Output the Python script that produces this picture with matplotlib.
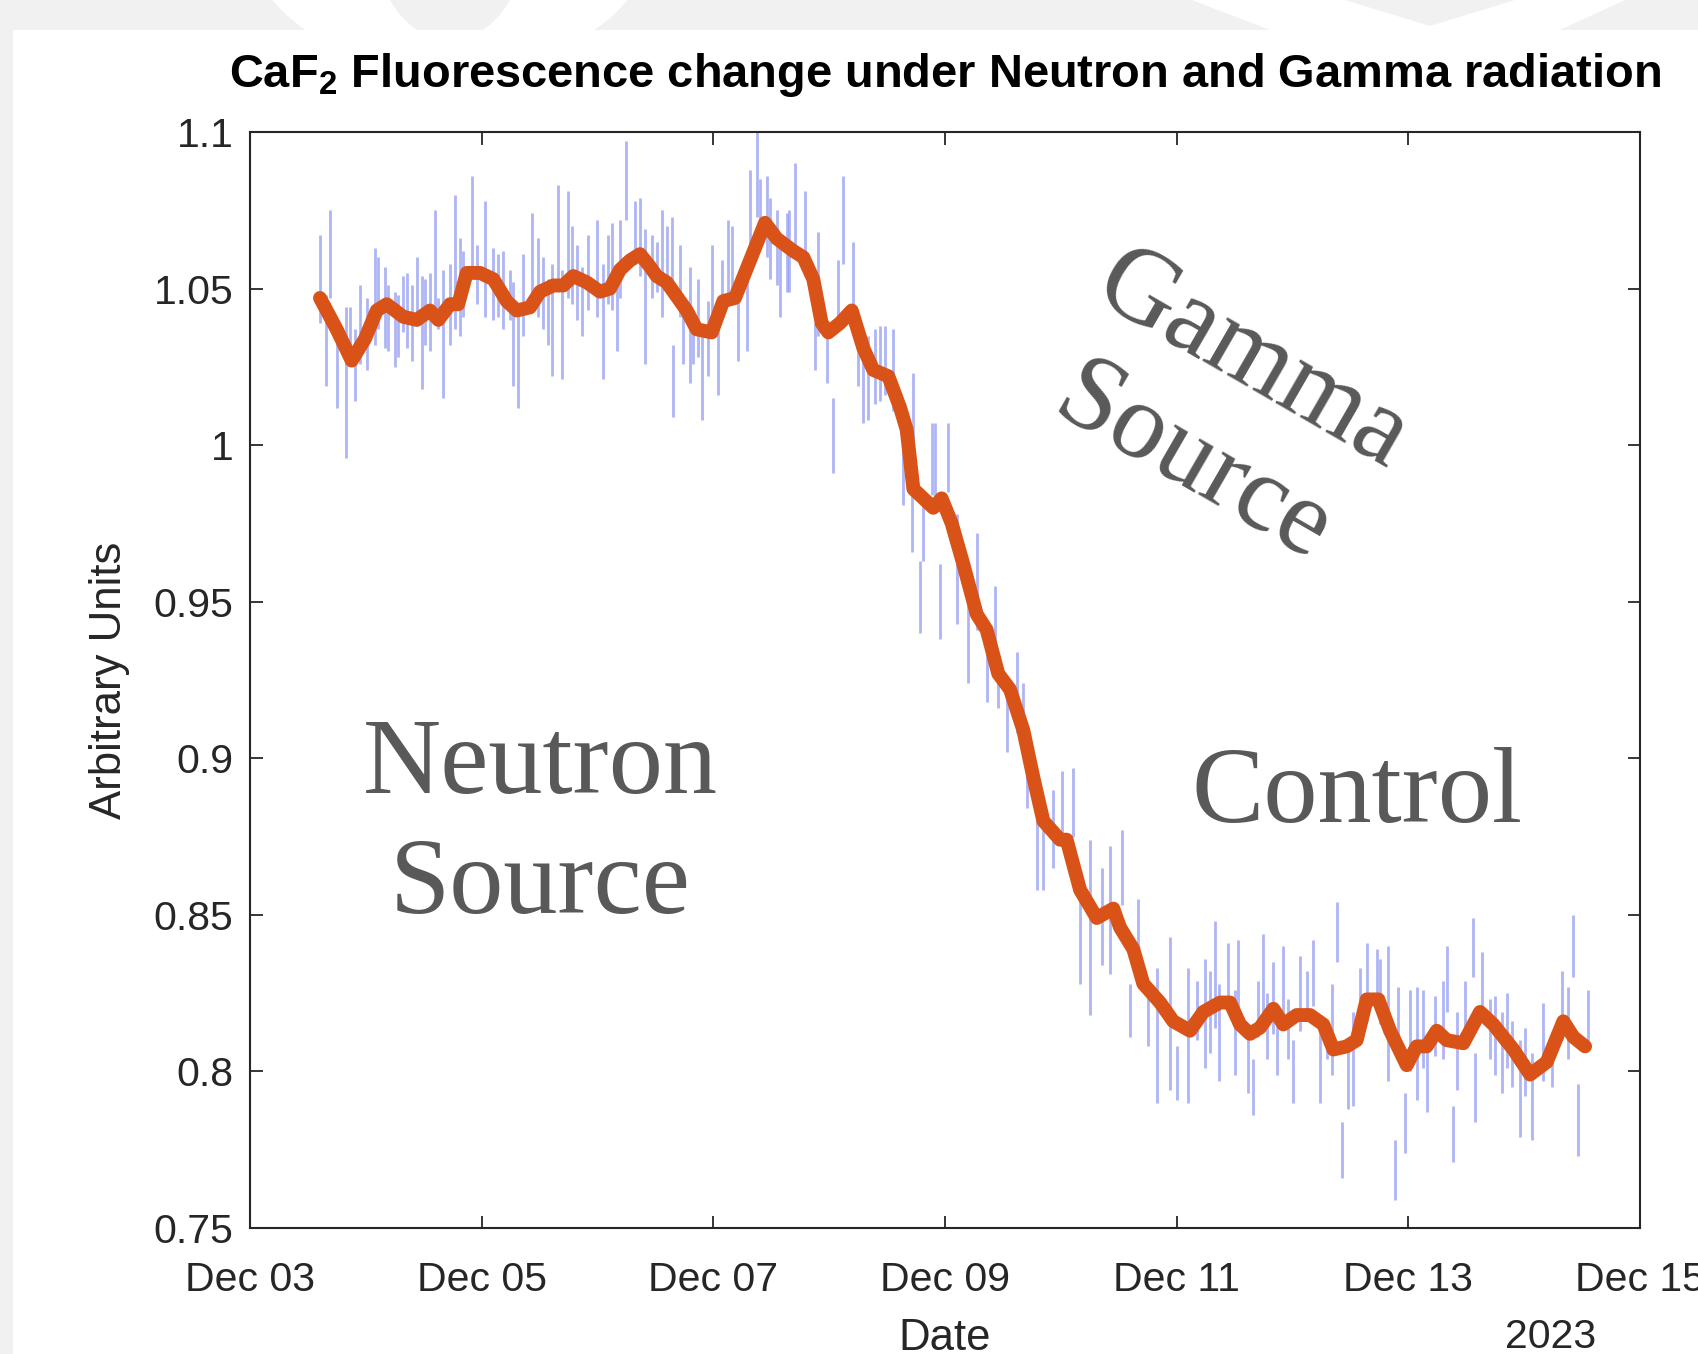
import pandas as pd
import matplotlib
matplotlib.use("Agg")
import matplotlib.pyplot as plt
import matplotlib.dates as mdates
from matplotlib.patches import Rectangle, Ellipse, Polygon
from matplotlib.ticker import MultipleLocator, FuncFormatter

t0 = pd.Timestamp("2023-12-03")

# smoothed fluorescence (days after Dec 03 00:00)
avg_day = [0.604, 0.748, 0.878, 0.993, 1.094, 1.180, 1.324, 1.439, 1.554, 1.626,
           1.727, 1.798, 1.871, 1.986, 2.101, 2.216, 2.303, 2.417, 2.504, 2.619,
           2.705, 2.791, 2.907, 3.022, 3.108, 3.194, 3.281, 3.367, 3.453, 3.511,
           3.597, 3.770, 3.856, 3.986, 4.086, 4.187, 4.317, 4.446, 4.547, 4.691,
           4.777, 4.863, 4.935, 4.993, 5.094, 5.195, 5.295, 5.381, 5.511, 5.612,
           5.669, 5.727, 5.899, 5.971, 6.058, 6.158, 6.274, 6.360, 6.460, 6.561,
           6.676, 6.762, 6.849, 6.993, 7.050, 7.166, 7.310, 7.453, 7.511, 7.626,
           7.712, 7.856, 7.971, 8.115, 8.230, 8.374, 8.461, 8.547, 8.633, 8.720,
           8.835, 8.921, 9.036, 9.151, 9.266, 9.353, 9.468, 9.554, 9.641, 9.741,
           9.842, 9.986, 10.072, 10.158, 10.245, 10.331, 10.475, 10.619, 10.734, 10.907,
           11.051, 11.195, 11.338, 11.425, 11.526]
avg_val = [1.047, 1.037, 1.027, 1.034, 1.043, 1.045, 1.041, 1.040, 1.043, 1.040,
           1.045, 1.045, 1.055, 1.055, 1.053, 1.046, 1.043, 1.044, 1.049, 1.051,
           1.051, 1.054, 1.052, 1.049, 1.050, 1.056, 1.059, 1.061, 1.057, 1.054,
           1.052, 1.043, 1.037, 1.036, 1.046, 1.047, 1.059, 1.071, 1.066, 1.062,
           1.060, 1.053, 1.039, 1.036, 1.039, 1.043, 1.031, 1.024, 1.022, 1.012,
           1.005, 0.986, 0.980, 0.983, 0.975, 0.962, 0.946, 0.941, 0.927, 0.922,
           0.909, 0.894, 0.880, 0.874, 0.874, 0.858, 0.849, 0.852, 0.846, 0.839,
           0.828, 0.822, 0.816, 0.813, 0.819, 0.822, 0.822, 0.815, 0.812, 0.814,
           0.820, 0.815, 0.818, 0.818, 0.815, 0.807, 0.808, 0.810, 0.823, 0.823,
           0.813, 0.802, 0.808, 0.808, 0.813, 0.810, 0.809, 0.819, 0.815, 0.807,
           0.799, 0.803, 0.816, 0.811, 0.808]

# raw samples: spread of each reading (low / high)
raw_day = [0.604, 0.656, 0.691, 0.748, 0.829, 0.863, 0.906, 0.950, 1.007, 1.079,
           1.108, 1.166, 1.194, 1.252, 1.281, 1.324, 1.353, 1.396, 1.439, 1.482,
           1.511, 1.554, 1.597, 1.626, 1.669, 1.727, 1.770, 1.813, 1.842, 1.914,
           1.957, 2.029, 2.101, 2.144, 2.187, 2.245, 2.274, 2.317, 2.360, 2.432,
           2.490, 2.533, 2.576, 2.605, 2.662, 2.691, 2.749, 2.777, 2.820, 2.864,
           2.921, 2.993, 3.051, 3.094, 3.123, 3.166, 3.195, 3.246, 3.324, 3.367,
           3.410, 3.468, 3.511, 3.554, 3.597, 3.640, 3.655, 3.712, 3.741, 3.799,
           3.827, 3.871, 3.899, 3.957, 3.986, 4.043, 4.072, 4.130, 4.158, 4.216,
           4.288, 4.317, 4.374, 4.403, 4.460, 4.489, 4.547, 4.576, 4.633, 4.656,
           4.705, 4.791, 4.878, 4.907, 4.979, 5.036, 5.079, 5.122, 5.209, 5.252,
           5.295, 5.338, 5.396, 5.439, 5.482, 5.554, 5.640, 5.727, 5.712, 5.784,
           5.813, 5.885, 5.914, 5.957, 6.029, 6.101, 6.202, 6.273, 6.360, 6.432,
           6.461, 6.532, 6.619, 6.676, 6.705, 6.791, 6.849, 6.935, 7.007, 7.108,
           7.166, 7.252, 7.353, 7.425, 7.525, 7.597, 7.669, 7.756, 7.828, 7.942,
           8.000, 8.101, 8.173, 8.245, 8.288, 8.331, 8.368, 8.446, 8.503, 8.532,
           8.619, 8.662, 8.705, 8.748, 8.777, 8.834, 8.863, 8.921, 8.964, 9.007,
           9.065, 9.122, 9.180, 9.237, 9.295, 9.338, 9.381, 9.424, 9.482, 9.525,
           9.583, 9.640, 9.727, 9.755, 9.827, 9.885, 9.914, 9.971, 10.014, 10.072,
           10.129, 10.158, 10.230, 10.302, 10.331, 10.388, 10.417, 10.489, 10.555, 10.575,
           10.633, 10.705, 10.748, 10.806, 10.849, 10.892, 10.964, 11.007, 11.065, 11.165,
           11.237, 11.324, 11.381, 11.419, 11.468, 11.554]
raw_lo = [1.039, 1.019, 1.047, 1.012, 0.996, 1.026, 1.014, 1.026, 1.024, 1.032,
          1.037, 1.031, 1.030, 1.025, 1.028, 1.036, 1.031, 1.027, 1.038, 1.018,
          1.032, 1.030, 1.039, 1.037, 1.015, 1.032, 1.037, 1.035, 1.041, 1.054,
          1.045, 1.041, 1.040, 1.041, 1.037, 1.040, 1.019, 1.012, 1.035, 1.045,
          1.041, 1.037, 1.032, 1.022, 1.049, 1.021, 1.047, 1.045, 1.040, 1.035,
          1.043, 1.041, 1.021, 1.045, 1.043, 1.030, 1.047, 1.072, 1.058, 1.054,
          1.026, 1.047, 1.049, 1.041, 1.052, 1.047, 1.009, 1.041, 1.026, 1.020,
          1.026, 1.028, 1.008, 1.022, 1.037, 1.016, 1.041, 1.047, 1.045, 1.027,
          1.030, 1.060, 1.073, 1.069, 1.060, 1.053, 1.051, 1.041, 1.049, 1.049,
          1.064, 1.056, 1.024, 1.035, 1.020, 0.991, 1.040, 1.058, 1.039, 1.019,
          1.007, 1.008, 1.013, 1.014, 1.016, 1.011, 0.981, 0.994, 0.966, 0.940,
          0.963, 0.984, 0.983, 0.938, 0.985, 0.943, 0.924, 0.941, 0.918, 0.931,
          0.916, 0.902, 0.908, 0.905, 0.884, 0.858, 0.858, 0.865, 0.872, 0.875,
          0.828, 0.818, 0.834, 0.831, 0.853, 0.811, 0.830, 0.808, 0.790, 0.794,
          0.791, 0.790, 0.810, 0.801, 0.806, 0.814, 0.797, 0.820, 0.799, 0.814,
          0.793, 0.786, 0.811, 0.817, 0.804, 0.812, 0.799, 0.816, 0.804, 0.790,
          0.813, 0.819, 0.821, 0.790, 0.804, 0.799, 0.835, 0.766, 0.788, 0.789,
          0.812, 0.816, 0.821, 0.815, 0.797, 0.759, 0.804, 0.774, 0.800, 0.791,
          0.801, 0.787, 0.805, 0.804, 0.819, 0.771, 0.794, 0.808, 0.830, 0.784,
          0.819, 0.804, 0.799, 0.793, 0.801, 0.795, 0.779, 0.792, 0.778, 0.797,
          0.795, 0.810, 0.804, 0.830, 0.773, 0.808]
raw_hi = [1.067, 1.048, 1.075, 1.035, 1.044, 1.044, 1.037, 1.051, 1.047, 1.063,
          1.060, 1.057, 1.051, 1.049, 1.048, 1.054, 1.055, 1.051, 1.060, 1.054,
          1.053, 1.055, 1.075, 1.047, 1.056, 1.058, 1.080, 1.066, 1.062, 1.086,
          1.064, 1.078, 1.063, 1.061, 1.062, 1.056, 1.052, 1.045, 1.061, 1.074,
          1.066, 1.060, 1.053, 1.058, 1.083, 1.056, 1.081, 1.070, 1.064, 1.057,
          1.067, 1.072, 1.058, 1.067, 1.071, 1.051, 1.072, 1.097, 1.078, 1.079,
          1.069, 1.067, 1.065, 1.075, 1.070, 1.073, 1.032, 1.064, 1.042, 1.057,
          1.037, 1.053, 1.035, 1.046, 1.064, 1.046, 1.059, 1.072, 1.070, 1.051,
          1.060, 1.088, 1.100, 1.085, 1.086, 1.079, 1.075, 1.065, 1.074, 1.075,
          1.090, 1.081, 1.039, 1.068, 1.037, 1.015, 1.059, 1.086, 1.065, 1.037,
          1.037, 1.035, 1.037, 1.038, 1.038, 1.037, 1.008, 1.023, 0.984, 0.963,
          0.985, 1.007, 1.007, 0.962, 1.007, 0.978, 0.949, 0.972, 0.937, 0.955,
          0.925, 0.919, 0.934, 0.924, 0.906, 0.887, 0.880, 0.890, 0.896, 0.897,
          0.855, 0.874, 0.865, 0.872, 0.877, 0.828, 0.855, 0.827, 0.833, 0.843,
          0.808, 0.833, 0.829, 0.836, 0.832, 0.848, 0.828, 0.841, 0.826, 0.842,
          0.811, 0.804, 0.829, 0.844, 0.825, 0.835, 0.816, 0.840, 0.823, 0.810,
          0.837, 0.832, 0.842, 0.813, 0.814, 0.828, 0.854, 0.784, 0.807, 0.819,
          0.833, 0.841, 0.839, 0.836, 0.840, 0.778, 0.827, 0.793, 0.826, 0.827,
          0.826, 0.808, 0.824, 0.829, 0.840, 0.789, 0.819, 0.829, 0.849, 0.806,
          0.838, 0.823, 0.824, 0.819, 0.825, 0.816, 0.810, 0.814, 0.806, 0.822,
          0.808, 0.832, 0.827, 0.850, 0.796, 0.826]

xticks = pd.date_range("2023-12-03", "2023-12-15", freq="2D")

plt.rcParams["font.family"] = ["Liberation Sans", "DejaVu Sans"]
plt.rcParams["mathtext.fontset"] = "custom"
plt.rcParams["mathtext.rm"] = "Liberation Sans"
plt.rcParams["mathtext.bf"] = "Liberation Sans:bold"

W, H = 1698, 1354
fig = plt.figure(figsize=(W / 100, H / 100), dpi=100, facecolor="#f1f1f1")

# white page + faint watermark shapes in the grey top band
fig.patches.append(Rectangle((13 / W, 0), 1, 1 - 30 / H, transform=fig.transFigure,
                             fc="white", ec="none", zorder=-10))
fig.patches.append(Ellipse((450 / W, (H + 60) / H), 400 / W, 260 / H, transform=fig.transFigure,
                           fc="white", ec="none", zorder=-11))
fig.patches.append(Ellipse((450 / W, (H + 60) / H), 150 / W, 200 / H, transform=fig.transFigure,
                           fc="#f1f1f1", ec="none", zorder=-10.5))
fig.patches.append(Polygon([(1192 / W, 1), (1625 / W, 1), (1560 / W, 1 - 30 / H), (1270 / W, 1 - 30 / H)],
                           transform=fig.transFigure, fc="white", ec="none", zorder=-11))
fig.patches.append(Polygon([(1345 / W, 1), (1515 / W, 1), (1430 / W, 1 - 26 / H)],
                           transform=fig.transFigure, fc="#f1f1f1", ec="none", zorder=-10.5))

ax = fig.add_axes([250 / W, 1 - 1228 / H, 1390 / W, 1096 / H])
ax.set_facecolor("white")

x_raw = t0 + pd.to_timedelta(raw_day, unit="D")
x_avg = t0 + pd.to_timedelta(avg_day, unit="D")
ax.vlines(x_raw, raw_lo, raw_hi, color="#939cf2", alpha=0.75, lw=2.0, zorder=2)
ax.plot(x_avg, avg_val, color="#D95319", lw=10, solid_joinstyle="round",
        solid_capstyle="round", zorder=3)

ax.set_xlim(pd.Timestamp("2023-12-03"), pd.Timestamp("2023-12-15"))
ax.set_ylim(0.75, 1.1)
ax.set_xticks(xticks)
ax.xaxis.set_major_formatter(mdates.DateFormatter("%b %d"))
ax.yaxis.set_major_locator(MultipleLocator(0.05))
ax.yaxis.set_major_formatter(FuncFormatter(lambda v, p: f"{v:g}"))

ax.tick_params(direction="in", length=9, width=1.3, color="#262626", labelcolor="#262626",
               labelsize=29.5, top=True, right=True)
ax.tick_params(axis="x", pad=23.5)
ax.tick_params(axis="y", pad=12)
for s in ax.spines.values():
    s.set_linewidth(1.5)
    s.set_color("#262626")

ax.set_ylabel("Arbitrary Units", fontsize=31.5, color="#262626")
ax.yaxis.set_label_coords(-0.0863, 0.5)
ax.set_xlabel("Date", fontsize=31.5, color="#262626")
ax.xaxis.set_label_coords(0.5, -0.0825)
ax.text(0.936, -0.0825, "2023", transform=ax.transAxes, ha="center", va="top",
        fontsize=29.5, color="#262626")

fig.text(945 / W, 1 - 87 / H,
         r"CaF$_\mathbf{2}$ Fluorescence change under Neutron and Gamma radiation",
         ha="center", va="baseline", fontsize=33.8, fontweight="bold")

note = dict(family=["Liberation Serif", "DejaVu Serif"], fontsize=78, color="#595959",
            ha="center", va="center", multialignment="center", linespacing=1.28)
fig.text(540 / W, 1 - 827 / H, "Neutron\nSource", **note)
fig.text(1357 / W, 1 - 796 / H, "Control", **note)
fig.text(1222 / W, 1 - 414 / H, "Gamma\nSource", rotation=-30, rotation_mode="anchor",
         bbox=dict(boxstyle="square,pad=0.3", fc="white", ec="none"), **note)

fig.savefig("out.png", dpi=100, facecolor=fig.get_facecolor())
